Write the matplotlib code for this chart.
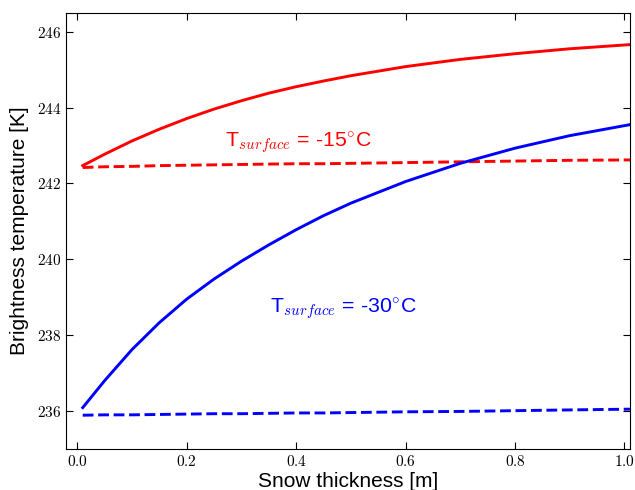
import numpy as np
import matplotlib
matplotlib.use('Agg')
import matplotlib.pyplot as plt
from matplotlib.ticker import FormatStrFormatter

plt.rcParams['font.family'] = ['Liberation Sans', 'DejaVu Sans']
plt.rcParams['mathtext.fontset'] = 'cm'

# snow thickness [m]
thick = [0.01, 0.05, 0.1, 0.15, 0.2, 0.25, 0.3, 0.35, 0.4, 0.45, 0.5,
         0.6, 0.7, 0.8, 0.9, 1.01]

# brightness temperature [K], surface at -15 C
tb15_snow = [242.47, 242.77, 243.12, 243.43, 243.71, 243.96, 244.18, 244.38, 244.55,
             244.70, 244.84, 245.08, 245.27, 245.42, 245.55, 245.66]
tb15_bare = [242.42, 242.44, 242.45, 242.47, 242.48, 242.49, 242.50, 242.51, 242.52,
             242.52, 242.53, 242.55, 242.57, 242.59, 242.61, 242.62]

# brightness temperature [K], surface at -30 C
tb30_snow = [236.09, 236.80, 237.62, 238.33, 238.95, 239.48, 239.95, 240.38, 240.78,
             241.15, 241.48, 242.05, 242.53, 242.93, 243.26, 243.55]
tb30_bare = [235.89, 235.90, 235.90, 235.91, 235.92, 235.93, 235.93, 235.94, 235.95,
             235.95, 235.96, 235.98, 235.99, 236.01, 236.03, 236.05]

fig = plt.figure(figsize=(6.35, 4.9), dpi=100)
ax = fig.add_axes([0.1044, 0.0837, 0.8876, 0.8903])

ax.plot(thick, tb15_snow, color='red', lw=2.1)
ax.plot(thick, tb15_bare, color='red', lw=2.1, ls='--')
ax.plot(thick, tb30_snow, color='blue', lw=2.1)
ax.plot(thick, tb30_bare, color='blue', lw=2.1, ls='--')

ax.text(0.27, 242.97, r'T$_{surface}$ = -15$^{\circ}$C', color='red', fontsize=15.3,
        ha='left', va='baseline')
ax.text(0.352, 238.59, r'T$_{surface}$ = -30$^{\circ}$C', color='blue', fontsize=15.3,
        ha='left', va='baseline')

ax.set_xlim(-0.02, 1.01)
ax.set_ylim(235, 246.5)
ax.set_xticks([0.0, 0.2, 0.4, 0.6, 0.8, 1.0])
ax.set_yticks([236, 238, 240, 242, 244, 246])
ax.xaxis.set_major_formatter(FormatStrFormatter('$%.1f$'))
ax.yaxis.set_major_formatter(FormatStrFormatter('$%d$'))
ax.tick_params(direction='in', top=True, right=True, length=5, labelsize=11)

ax.set_xlabel('Snow thickness [m]', fontsize=15, labelpad=2)
ax.set_ylabel('Brightness temperature [K]', fontsize=15, labelpad=6)

fig.savefig('out.png', dpi=100)
